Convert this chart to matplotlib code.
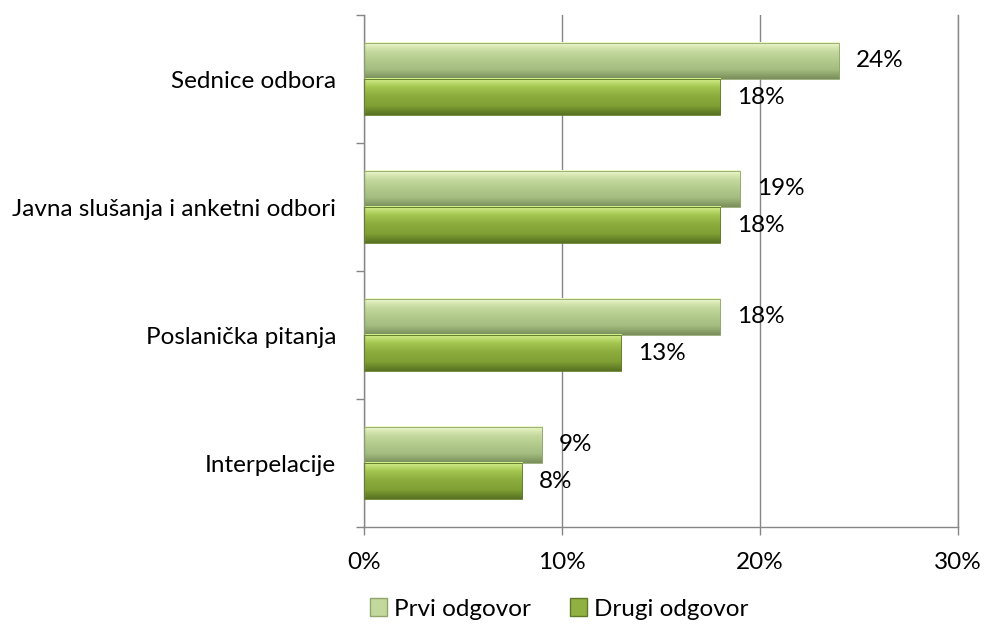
import numpy as np
import matplotlib.pyplot as plt
from matplotlib.patches import Patch
from matplotlib.colors import LinearSegmentedColormap

plt.rcParams['font.family'] = ['Lato', 'DejaVu Sans']

# podaci
kategorije = ['Sednice odbora', 'Javna slušanja i anketni odbori', 'Poslanička pitanja', 'Interpelacije']
prvi_odgovor = [24, 19, 18, 9]
drugi_odgovor = [18, 18, 13, 8]
x_ticks = [0, 10, 20, 30]
x_labels = ['0%', '10%', '20%', '30%']

# gradijenti za "bevel" izgled traka
svetla = LinearSegmentedColormap.from_list('svetla', ['#7a8f5a', '#a3bc80', '#b3ca8c', '#c4d99f', '#eef9c8'])
tamna = LinearSegmentedColormap.from_list('tamna', ['#587222', '#80a034', '#8bab3d', '#a2c44f', '#d4f08c'])

fs = 17.5
fig = plt.figure(figsize=(9.86, 6.29), dpi=100)
ax = fig.add_axes([364 / 986, 1 - 527 / 629, (958 - 364) / 986, (527 - 15) / 629])

y = np.arange(len(kategorije))[::-1]
h = 0.285
bars1 = ax.barh(y + h / 2, prvi_odgovor, height=h, color='#b5cc8e', edgecolor='#8fa56c', linewidth=0.6, zorder=3)
bars2 = ax.barh(y - h / 2, drugi_odgovor, height=h, color='#8aaa3c', edgecolor='#5f7a28', linewidth=0.6, zorder=3)

grad = np.linspace(0, 1, 64).reshape(-1, 1)
for bars, cmap in [(bars1, svetla), (bars2, tamna)]:
    for p in bars:
        x0, y0, w, hh = p.get_x(), p.get_y(), p.get_width(), p.get_height()
        ax.imshow(grad, cmap=cmap, origin='lower', aspect='auto',
                  extent=[x0, x0 + w, y0, y0 + hh], zorder=2.5, interpolation='bicubic')
        p.set_facecolor('none')
        ax.text(x0 + w + 0.85, y0 + hh / 2, f'{int(w)}%', va='center', ha='left', fontsize=fs, zorder=4)

ax.set_xlim(0, 30)
ax.set_ylim(-0.5, len(kategorije) - 0.5)

ax.set_xticks(x_ticks)
ax.set_xticklabels(x_labels, fontsize=fs)
ax.set_yticks(y)
ax.set_yticklabels(kategorije, fontsize=fs)
ax.set_yticks(np.arange(-0.5, len(kategorije), 1), minor=True)
ax.tick_params(axis='y', which='major', length=0, pad=20)
ax.tick_params(axis='y', which='minor', length=6, color='#868686', width=1)
ax.tick_params(axis='x', length=6, color='#868686', width=1, pad=12)

ax.grid(axis='x', color='#868686', linewidth=1, zorder=0)
ax.spines['top'].set_visible(False)
for s in ['left', 'bottom', 'right']:
    ax.spines[s].set_color('#868686')
    ax.spines[s].set_linewidth(1)
ax.set_axisbelow(True)

handles = [Patch(facecolor='#c3d89c', edgecolor='#8fa56c', label='Prvi odgovor'),
           Patch(facecolor='#90b141', edgecolor='#5f7a28', label='Drugi odgovor')]
fig.legend(handles=handles, loc='center', bbox_to_anchor=(0.567, 1 - 609 / 629), ncol=2,
           frameon=False, fontsize=fs, handlelength=0.7, handleheight=0.7,
           handletextpad=0.3, columnspacing=1.6)

fig.savefig('out.png', dpi=100)
